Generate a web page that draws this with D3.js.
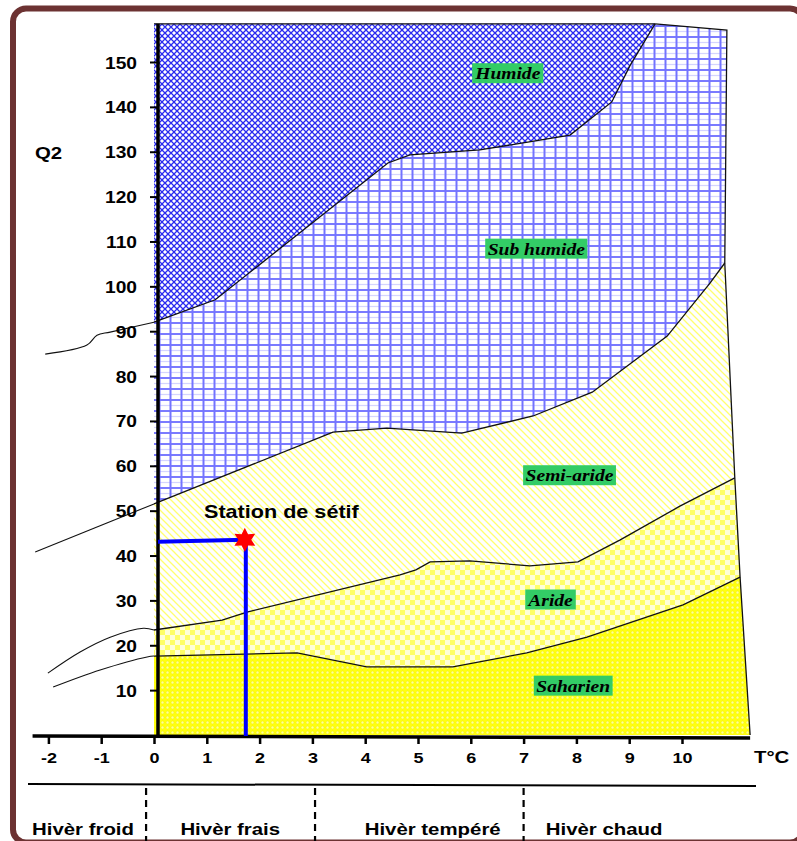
<!DOCTYPE html>
<html>
<head>
<meta charset="utf-8">
<script src="https://cdn.jsdelivr.net/npm/d3@7"></script>
<style>
html,body{margin:0;padding:0;background:#fff;}
svg{display:block;}
</style>
</head>
<body>
<svg id="chart" width="797" height="841"></svg>
<script>
// ---- data (m in °C, Q2) ----
const mTicks = [-2,-1,0,1,2,3,4,5,6,7,8,9,10];
const q2Ticks = [10,20,30,40,50,60,70,80,90,100,110,120,130,140,150];
const q2Top = 158.5;

// limits between bioclimatic stages (m, Q2)
const humideLimit = [[0,92.0],[1.16,97.0],[4.43,127.5],[4.85,129.3],[6.17,130.4],[7.88,133.7],[8.67,141.1],[9.02,149.3],[9.49,158.5]];
const subHumideLimit = [[0,51.5],[3.39,67.5],[4.41,68.4],[5.83,67.3],[7.18,71.1],[8.3,76.4],[9.72,88.9],[10.53,100.7],[10.81,105.2]];
const semiAridLimit = [[0,23.4],[1.29,25.6],[1.76,27.4],[4.66,35.7],[4.96,36.8],[5.23,38.6],[5.98,38.8],[7.12,37.7],[8.03,38.6],[8.83,43.5],[9.96,51.0],[11.0,57.3]];
const aridLimit = [[0,17.6],[2.71,18.3],[4.03,15.2],[5.66,15.2],[7.06,18.3],[8.2,21.8],[10.02,29.0],[11.1,35.2]];
const rightEdge = [[9.49,158.5],[10.85,157.1],[10.81,105.2],[11.0,57.3],[11.1,35.2],[11.29,0]];

// extensions of limits for m < 0
const humideExt = [[-2.06,84.9],[-1.27,86.9],[-1.08,89.1],[-0.83,89.8],[0,92.0]];
const subHumideExt = [[-2.25,40.8],[0,51.5]];
const semiAridExt = [[-2.01,13.8],[-1.4,18.5],[-0.83,21.8],[-0.2,23.8],[0,23.4]];
const aridExt = [[-1.91,10.7],[-1.02,14.5],[-0.13,17.4],[0,17.6]];

const stageNames = ["Humide","Sub humide","Semi-aride","Aride","Saharien"];
const stageLabelPos = [[6.70,147.5],[7.24,108.4],[7.87,57.9],[7.51,30.2],[7.94,11.0]];

const station = {name:"Station de sétif", m:1.72, q2:43.5};
const winterNames = ["Hivèr froid","Hivèr frais","Hivèr tempéré","Hivèr chaud"];
const winterBounds = [-0.15, 3.05, 7.0];
const winterLabelM = [-2.31, 0.5, 3.99, 7.42];

// ---- scales ----
const x = d3.scaleLinear().domain([0,10]).range([154,682]);
const y = d3.scaleLinear().domain([0,150]).range([735,62]);

const svg = d3.select("#chart");
const defs = svg.append("defs");

function pat(id,w,h){ return defs.append("pattern").attr("id",id).attr("patternUnits","userSpaceOnUse").attr("width",w).attr("height",h); }
// Humide: blue diamond cross-hatch
let p = pat("pHum",6,6);
p.append("rect").attr("width",6).attr("height",6).attr("fill","#ffffff");
p.append("path").attr("d","M0,0L6,6M6,0L0,6").attr("stroke","#2a2af0").attr("stroke-width",1.3).attr("fill","none");
// Sub humide: blue grid
p = pat("pSub",11,11);
p.append("rect").attr("width",11).attr("height",11).attr("fill","#ffffff");
p.append("path").attr("d","M0,9.5H11").attr("stroke","#d4d4ff").attr("stroke-width",1.2);
p.append("path").attr("d","M0,4H11").attr("stroke","#7a7aff").attr("stroke-width",2);
p.append("path").attr("d","M5.5,0V11").attr("stroke","#7373ff").attr("stroke-width",2);
// Semi-aride: yellow diagonal lines
p = pat("pSemi",7,7);
p.append("rect").attr("width",7).attr("height",7).attr("fill","#ffffff");
p.append("path").attr("d","M0,0L7,7M-1,6L1,8M6,-1L8,1").attr("stroke","#ffff70").attr("stroke-width",1.3);
// Aride: yellow checkerboard
p = pat("pAri",10,10);
p.append("rect").attr("width",10).attr("height",10).attr("fill","#ffffd8");
p.append("rect").attr("width",5).attr("height",5).attr("fill","#ffff66");
p.append("rect").attr("x",5).attr("y",5).attr("width",5).attr("height",5).attr("fill","#ffff66");
// Saharien: yellow bubbles
p = pat("pSah",5,5);
p.append("rect").attr("width",5).attr("height",5).attr("fill","#ffff10");
p.append("circle").attr("cx",2.5).attr("cy",2.5).attr("r",1.5).attr("fill","#ffff9a").attr("stroke","#f0f000").attr("stroke-width",0.5);

// ---- frame ----
svg.append("rect").attr("x",13).attr("y",8.5).attr("width",790).attr("height",834).attr("rx",13)
  .attr("fill","none").attr("stroke","#6c3232").attr("stroke-width",6);

const P = d => [x(d[0]), y(d[1])];
const area = pts => "M" + pts.map(P).map(p=>p.join(",")).join("L") + "Z";
const rev = a => a.slice().reverse();

// regions
const saharien = aridLimit.concat([[11.29,0],[0,0]]);
const aride = semiAridLimit.concat(rev(aridLimit));
const semiAride = subHumideLimit.concat([[11.0,57.3]], rev(semiAridLimit));
const subHumide = humideLimit.concat([[10.85,157.1]], rev(subHumideLimit));
const humide = [[0,q2Top]].concat(rev(humideLimit));

const regions = [[saharien,"pSah"],[aride,"pAri"],[semiAride,"pSemi"],[subHumide,"pSub"],[humide,"pHum"]];
svg.append("g").selectAll("path").data(regions).join("path")
  .attr("d",d=>area(d[0])).attr("fill",d=>"url(#"+d[1]+")").attr("stroke","none");

// limit lines
const line = d3.line().x(d=>x(d[0])).y(d=>y(d[1]));
const curve = d3.line().x(d=>x(d[0])).y(d=>y(d[1])).curve(d3.curveCatmullRom);
const lg = svg.append("g").attr("fill","none").attr("stroke","#111");
[humideLimit, subHumideLimit, semiAridLimit, aridLimit, rightEdge, [[0,q2Top],[9.49,q2Top]]].forEach(l=>{
  lg.append("path").attr("d",line(l)).attr("stroke-width",1.3);
});
[humideExt, subHumideExt, semiAridExt, aridExt].forEach(l=>{
  lg.append("path").attr("d",curve(l)).attr("stroke-width",1.1);
});

// ---- axes ----
const FONT = "'Liberation Sans', Arial, sans-serif";
const yAxis = svg.append("g").attr("transform","translate(158,0)")
  .call(d3.axisLeft(y).tickValues(q2Ticks).tickSize(8).tickSizeOuter(0).tickFormat(d=>String(d)));
yAxis.select(".domain").remove();
yAxis.selectAll(".tick line").attr("stroke","#000").attr("stroke-width",2);
yAxis.selectAll(".tick text").attr("x",null).attr("dy",null)
  .attr("transform","translate(-21,6) scale(1.2,1)")
  .attr("font-family",FONT).attr("font-weight","bold").attr("font-size",16).attr("fill","#000");
svg.append("line").attr("x1",158).attr("x2",158).attr("y1",y(0)+2).attr("y2",y(q2Top))
  .attr("stroke","#000").attr("stroke-width",3.5);

const xAxis = svg.append("g").attr("transform","translate(0,736)")
  .call(d3.axisBottom(x).tickValues(mTicks).tickSize(8).tickSizeOuter(0).tickFormat(d=>String(d)));
xAxis.select(".domain").remove();
xAxis.selectAll(".tick line").attr("stroke","#000").attr("stroke-width",2.5);
xAxis.selectAll(".tick text").attr("y",null).attr("dy",null)
  .attr("transform","translate(0,27) scale(1.2,1)")
  .attr("font-family",FONT).attr("font-weight","bold").attr("font-size",15).attr("fill","#000");
svg.append("line").attr("x1",x(-2.3)).attr("x2",x(11.29)).attr("y1",736).attr("y2",738)
  .attr("stroke","#000").attr("stroke-width",3.5);

function txt(s,tx,ty,size,opts={}){
  return svg.append("text").attr("transform",`translate(${tx},${ty}) scale(1.2,1)`)
    .attr("font-family",opts.family||FONT).attr("font-weight","bold").attr("font-style",opts.style||"normal")
    .attr("font-size",size).attr("fill","#000").attr("text-anchor",opts.anchor||"start").text(s);
}
txt("Q2",35,159,17);
txt("T°C",754,763,17);

// winter classes
svg.append("line").attr("x1",28).attr("x2",756).attr("y1",784).attr("y2",786).attr("stroke","#000").attr("stroke-width",2);
svg.append("g").selectAll("line").data(winterBounds).join("line")
  .attr("x1",d=>x(d)).attr("x2",d=>x(d)).attr("y1",788).attr("y2",841)
  .attr("stroke","#000").attr("stroke-width",2.2).attr("stroke-dasharray","7,5");
winterNames.forEach((n,i)=>txt(n, x(winterLabelM[i]), 835, 17));

// station
svg.append("line").attr("x1",158).attr("x2",x(station.m)).attr("y1",y(station.q2)+2).attr("y2",y(station.q2))
  .attr("stroke","#0000ff").attr("stroke-width",4);
svg.append("line").attr("x1",x(station.m)+1).attr("x2",x(station.m)+1).attr("y1",y(station.q2)).attr("y2",y(0)+1)
  .attr("stroke","#0000ff").attr("stroke-width",4);
const starPts = d3.range(12).map(i=>[i*Math.PI/6, i%2===0?12:6.5]);
svg.append("path").attr("d",d3.lineRadial().angle(d=>d[0]).radius(d=>d[1])(starPts)+"Z")
  .attr("transform",`translate(${x(station.m)},${y(station.q2)})`).attr("fill","#ff0000");
txt(station.name, 204, 518, 18);

// stage labels with green boxes
stageNames.forEach((n,i)=>{
  const cx = x(stageLabelPos[i][0]), cy = y(stageLabelPos[i][1]);
  const g = svg.append("g");
  const r = g.append("rect").attr("fill","#33cc66");
  const t = g.append("text").attr("transform",`translate(${cx},${cy+6}) scale(1.15,1)`)
    .attr("font-family","'Liberation Serif', 'Times New Roman', serif").attr("font-weight","bold").attr("font-style","italic")
    .attr("font-size",17).attr("text-anchor","middle").attr("fill","#000").text(n);
  const b = t.node().getBBox();
  const w = b.width*1.15 + 5;
  r.attr("x",cx-w/2).attr("y",cy-10).attr("width",w).attr("height",20);
});
</script>
</body>
</html>
